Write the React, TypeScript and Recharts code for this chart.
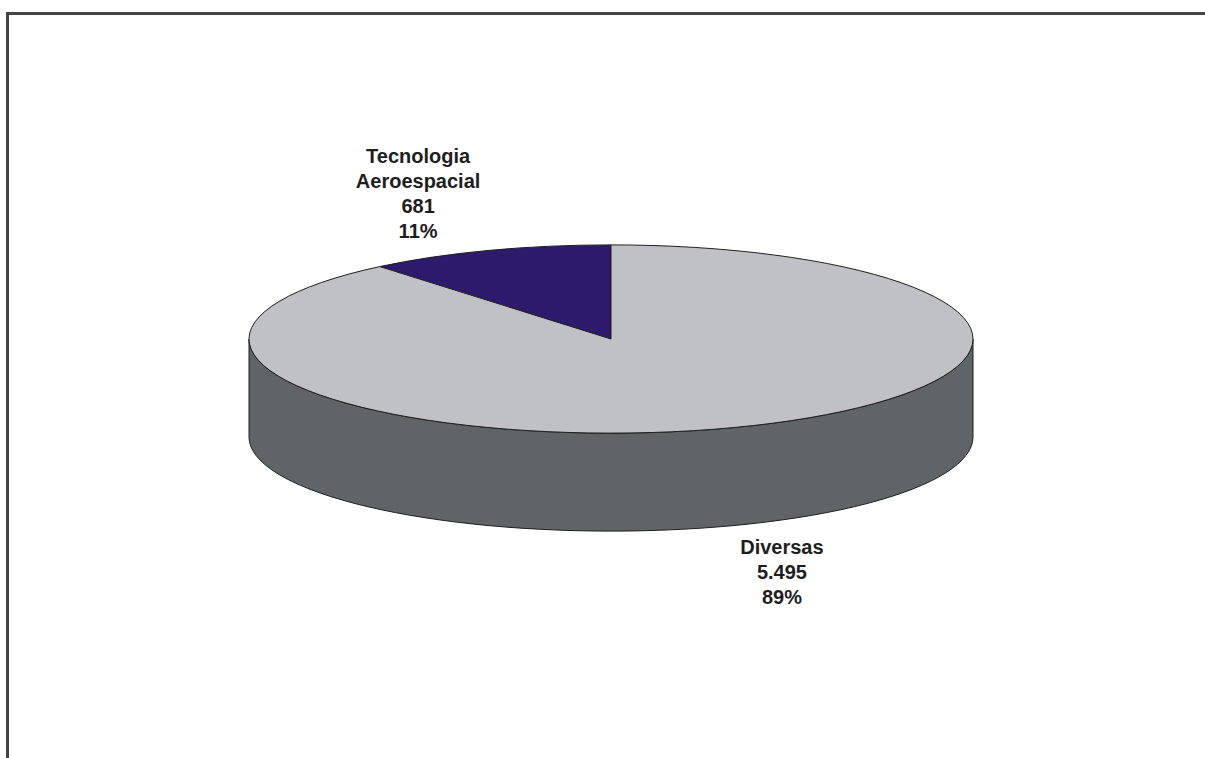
import { PieChart, Pie, Cell } from "recharts";

// values
const categories = ["Tecnologia Aeroespacial", "Diversas"];
const labelLines = [["Tecnologia", "Aeroespacial"], ["Diversas"]];
const valueLabels = ["681", "5.495"];
const values = [681, 5495];

const data = categories.map((name, i) => ({ name, value: values[i] }));

const TOP_COLORS = ["#2d1a6c", "#c0c1c5"];
const SIDE_COLOR = "#5f6468";
const EDGE = "#1e1e1e";
const TILT = 0.26; // vertical squash of the disc
const DEPTH = 98;

// where each text block sits relative to the middle of its rim
const LABEL_OFFSET = [
  { dx: -70, dy: -12 },
  { dx: 48, dy: 28 },
];

const rad = (a: number) => (a * Math.PI) / 180;

const Slice3D = (props: any) => {
  const { cx, cy, outerRadius, startAngle, endAngle, index, percent } = props;
  const rx = outerRadius;
  const ry = outerRadius * TILT;
  const pt = (a: number, drop = 0) => [cx + rx * Math.cos(rad(a)), cy - ry * Math.sin(rad(a)) + drop];

  const s = Math.min(startAngle, endAngle);
  const e = Math.max(startAngle, endAngle);
  const sweep = e - s;
  const [x0, y0] = pt(s);
  const [x1, y1] = pt(e);
  const top = `M${cx},${cy} L${x0},${y0} A${rx},${ry} 0 ${sweep > 180 ? 1 : 0} 0 ${x1},${y1} Z`;

  // front wall: parts of the rim that face the viewer (180..360 deg)
  const walls: string[] = [];
  for (const k of [180, 540]) {
    const a = Math.max(s, k);
    const b = Math.min(e, k + 180);
    if (b > a) {
      const [ax, ay] = pt(a);
      const [bx, by] = pt(b);
      walls.push(
        `M${ax},${ay} A${rx},${ry} 0 0 0 ${bx},${by} L${bx},${by + DEPTH} A${rx},${ry} 0 0 1 ${ax},${ay + DEPTH} Z`
      );
    }
  }

  const mid = (s + e) / 2;
  const up = Math.sin(rad(mid)) > 0;
  const [mx, my] = pt(mid, up ? 0 : DEPTH);
  const lines = [...labelLines[index], valueLabels[index], `${Math.round(percent * 100)}%`];
  const off = LABEL_OFFSET[index];
  const lx = mx + off.dx;
  const firstBase = up ? my + off.dy - (lines.length - 1) * 25 : my + off.dy;

  return (
    <g>
      {walls.map((d, i) => (
        <path key={i} d={d} fill={SIDE_COLOR} stroke={EDGE} strokeWidth={1} />
      ))}
      <path d={top} fill={TOP_COLORS[index]} stroke={EDGE} strokeWidth={1} strokeLinejoin="round" />
      <text
        x={lx}
        y={firstBase}
        textAnchor="middle"
        fontFamily="'Liberation Sans', Arial, sans-serif"
        fontWeight="bold"
        fontSize={20}
        fill="#1e1e1e"
      >
        {lines.map((t, i) => (
          <tspan key={i} x={lx} dy={i === 0 ? 0 : 25}>
            {t}
          </tspan>
        ))}
      </text>
    </g>
  );
};

export default function App() {
  return (
    <div style={{ position: "absolute", left: 0, top: 0, width: 1205, height: 758, background: "#fff" }}>
      <div
        style={{
          position: "absolute",
          left: 6,
          top: 12,
          width: 1199,
          height: 746,
          borderLeft: "3px solid #454545",
          borderTop: "3px solid #454545",
          boxSizing: "border-box",
        }}
      />
      <div style={{ position: "absolute", left: 0, top: 0 }}>
        <PieChart width={1205} height={758} margin={{ top: 0, right: 0, bottom: 0, left: 0 }}>
          <Pie
            data={data}
            dataKey="value"
            nameKey="name"
            cx={611}
            cy={339}
            outerRadius={362}
            startAngle={90}
            endAngle={450}
            fill="transparent"
            stroke="none"
            label={Slice3D}
            labelLine={false}
            isAnimationActive={false}
          >
            {data.map((d) => (
              <Cell key={d.name} fill="transparent" stroke="none" />
            ))}
          </Pie>
        </PieChart>
      </div>
    </div>
  );
}
